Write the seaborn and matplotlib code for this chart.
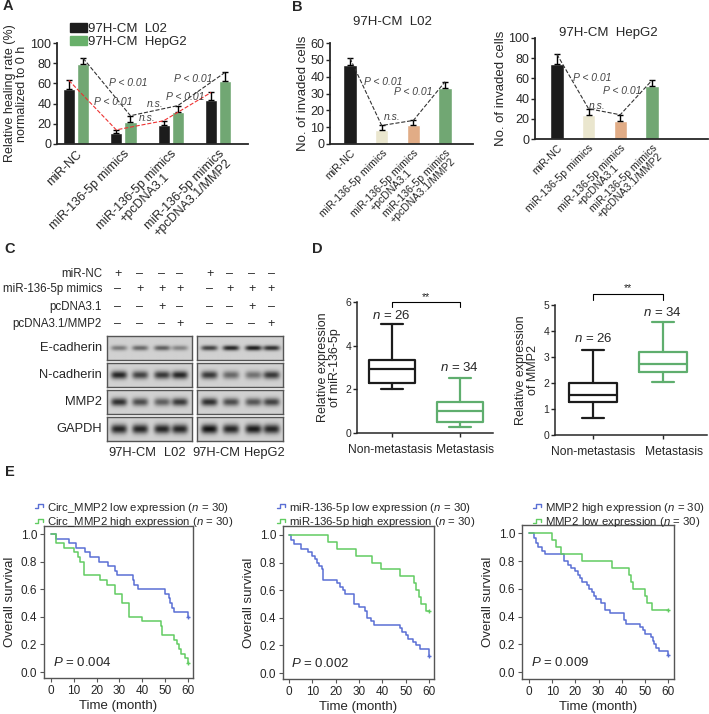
import numpy as np
import pandas as pd
import seaborn as sns
import matplotlib.pyplot as plt
from matplotlib.lines import Line2D
from matplotlib.patches import Patch
from matplotlib.legend_handler import HandlerBase

# ---- data ----
GROUPS = ['miR-NC', 'miR-136-5p mimics', 'miR-136-5p mimics\n+pcDNA3.1',
          'miR-136-5p mimics\n+pcDNA3.1/MMP2']

heal_l02 = [54, 11, 19, 44]
heal_l02_err = [9, 3, 4, 7]
heal_hepg2 = [79, 22, 32, 62]
heal_hepg2_err = [6, 6, 6, 9]

inv_l02 = [47, 8.5, 11, 33]
inv_l02_err = [4, 2.5, 3, 4]
inv_hepg2 = [74, 24, 18, 52]
inv_hepg2_err = [10, 6, 6, 6]

blot_rows = ['E-cadherin', 'N-cadherin', 'MMP2', 'GAPDH']
blot_l02 = [[0.45, 0.55, 0.6, 0.4], [0.9, 0.75, 0.8, 0.9],
            [0.85, 0.7, 0.6, 0.8], [0.9, 0.9, 0.9, 0.9]]
blot_hepg2 = [[0.75, 0.9, 0.95, 0.85], [0.8, 0.55, 0.5, 0.8],
              [0.85, 0.7, 0.65, 0.75], [1.0, 0.9, 0.95, 0.9]]
treat_rows = ['miR-NC', 'miR-136-5p mimics', 'pcDNA3.1', 'pcDNA3.1/MMP2']
treat_signs = [[1, 0, 0, 0], [0, 1, 1, 1], [0, 0, 1, 0], [0, 0, 0, 1]]

# box stats: whislo, q1, med, q3, whishi
mir_non = [2.0, 2.3, 2.95, 3.35, 5.0]
mir_met = [0.27, 0.5, 1.0, 1.4, 2.5]
mmp_non = [0.65, 1.27, 1.54, 2.0, 3.27]
mmp_met = [2.04, 2.42, 2.73, 3.19, 4.35]

# Kaplan-Meier steps
circ_low_t = [0, 2, 8, 11, 15, 17, 21, 25, 28, 29, 36, 36.5, 38, 50, 51.5, 52, 53, 54, 60]
circ_low_s = [1, .967, .933, .9, .867, .833, .8, .767, .733, .7, .667, .633, .6, .567, .533, .5, .467, .433, .4]
circ_high_t = [0, 2, 5.5, 10, 12, 12.5, 14.5, 21.5, 24.5, 28, 31, 34, 40, 48, 48.5, 54, 55, 56, 57, 58.5, 60]
circ_high_s = [1, .933, .9, .867, .833, .8, .7, .667, .633, .567, .5, .4, .367, .333, .267, .233, .2, .167, .133, .1, .067]

mir_low_t = [0, 1, 2, 5, 8, 10, 11, 12, 13, 14, 14.6, 20.5, 22, 23, 24, 28, 30, 32.5, 33.5, 35,
             36.5, 47.5, 48.5, 50, 51, 53, 54.5, 56, 60]
mir_low_s = [1, .967, .933, .9, .875, .85, .825, .8, .775, .75, .675, .65, .625, .6, .575, .5, .475, .45, .4, .375,
             .35, .325, .3, .275, .25, .225, .2, .175, .125]
mir_high_t = [0, 16.5, 20.5, 28.5, 35.5, 39.5, 47.5, 53.5, 54.5, 55.5, 56.5, 58.5, 60]
mir_high_s = [1, .95, .9, .85, .8, .75, .7, .65, .6, .55, .5, .45, .45]

mmp_high_t = [0, 2, 3, 4, 5.5, 7, 15, 17, 18, 20, 21, 22, 23, 25, 26, 27, 28, 29, 31, 33,
              35, 41, 42, 48, 49, 50, 52.5, 53.5, 54, 55, 56, 60]
mmp_high_s = [1, .967, .933, .9, .875, .85, .8, .775, .75, .725, .7, .675, .65, .625, .6, .575, .55, .525, .5, .45,
              .425, .375, .35, .325, .3, .275, .25, .225, .2, .175, .15, .125]
mmp_low_t = [0, 10, 11.5, 14, 23, 36, 43, 44, 45, 50, 51, 53, 60]
mmp_low_s = [1, .95, .9, .85, .8, .75, .7, .65, .6, .55, .5, .45, .45]

# ---- style ----
sns.set_style('ticks')
plt.rcParams['font.family'] = ['Liberation Sans', 'DejaVu Sans']
plt.rcParams['mathtext.fontset'] = 'custom'
plt.rcParams['mathtext.rm'] = 'Liberation Sans'
plt.rcParams['mathtext.it'] = 'Liberation Sans:italic'
plt.rcParams['font.size'] = 9

BLACK = '#1c1c1c'
GREEN = '#68b06a'
CREAM = '#efe9c9'
ORANGE = '#f0a977'
KM_BLUE = '#5a6fd4'
KM_GREEN = '#62cc62'
BOX_GREEN = '#5fae6e'
ANNO = '#444444'

W, H = 709, 714
fig = plt.figure(figsize=(W / 100, H / 100), dpi=100)


def add_ax(l, t, r, b):
    return fig.add_axes([l / W, 1 - b / H, (r - l) / W, (b - t) / H])


def fig_text(x, y, s, **kw):
    fig.text(x / W, 1 - y / H, s, **kw)


def bar_axes(ax, ylim, yticks, lab_size, lab_space):
    ax.set_ylim(*ylim)
    ax.set_yticks(yticks)
    ax.set_xticks(range(4))
    ax.set_xticklabels(GROUPS, rotation=45, ha='right', va='top', linespacing=lab_space,
                       rotation_mode='anchor', multialignment='center', fontsize=lab_size)
    ax.set_xlabel('')
    sns.despine(ax=ax)
    for s in ['left', 'bottom']:
        ax.spines[s].set_linewidth(1.3)
    ax.tick_params(axis='y', length=3, width=1, labelsize=9, pad=1)
    ax.tick_params(axis='x', length=0, pad=3)


def errbars(ax, xs, vals, errs):
    ax.errorbar(xs, vals, yerr=[np.zeros(len(errs)), errs], fmt='none',
                ecolor='black', elinewidth=1, capsize=2.5, capthick=1)


def anno(ax, x, y, s):
    ax.text(x, y, s, fontsize=7.5, style='italic', color=ANNO, ha='center', va='center')


# ---- panel A ----
axA = add_ax(57, 43, 248, 144)
dfA = pd.DataFrame({
    'group': GROUPS * 2,
    'cell': ['97H-CM  L02'] * 4 + ['97H-CM  HepG2'] * 4,
    'rate': heal_l02 + heal_hepg2,
})
sns.barplot(data=dfA, x='group', y='rate', hue='cell', palette=[BLACK, GREEN],
            width=0.6, gap=0.15, errorbar=None, legend=False, ax=axA)
axA.set_xlim(-0.4, 3.63)
xs = np.arange(4)
errbars(axA, xs - 0.15, heal_l02, heal_l02_err)
errbars(axA, xs + 0.15, heal_hepg2, heal_hepg2_err)
axA.plot(xs + 0.15, np.add(heal_hepg2, heal_hepg2_err), ls='--', color='#333333', lw=0.8)
axA.plot(xs - 0.15, np.add(heal_l02, heal_l02_err), ls='--', color='#ee3333', lw=0.8)
bar_axes(axA, (0, 100), [0, 20, 40, 60, 80, 100], 9, 0.95)
axA.set_ylabel('Relative healing rate (%)\nnormalized to 0 h', fontsize=9, labelpad=2,
               linespacing=1.0)
anno(axA, 1.1, 60, 'P < 0.01')
anno(axA, 0.78, 42, 'P < 0.01')
anno(axA, 1.67, 40, 'n.s.')
anno(axA, 1.5, 26, 'n.s.')
anno(axA, 2.47, 64, 'P < 0.01')
anno(axA, 2.3, 47, 'P < 0.01')
axA.legend(handles=[Patch(color=BLACK), Patch(color=GREEN)],
           labels=['97H-CM  L02', '97H-CM  HepG2'], loc='upper left',
           bbox_to_anchor=(63 / W, 1 - 16 / H), bbox_transform=fig.transFigure,
           frameon=False, fontsize=9.5, handlelength=1.3, handleheight=0.75,
           handletextpad=0.1, labelspacing=0.05, borderpad=0)


# ---- panel B ----
def invasion(ax, vals, errs, ylim, yticks, xlim, notes):
    df = pd.DataFrame({'group': GROUPS, 'cells': vals})
    sns.barplot(data=df, x='group', y='cells', hue='group',
                palette=[BLACK, CREAM, ORANGE, GREEN], width=0.42,
                errorbar=None, legend=False, ax=ax)
    ax.set_xlim(*xlim)
    errbars(ax, np.arange(4), vals, errs)
    ax.plot(np.arange(4), np.add(vals, errs), ls='--', color='#333333', lw=0.8)
    bar_axes(ax, ylim, yticks, 7.6, 0.88)
    ax.set_ylabel('No. of invaded cells', fontsize=9.5, labelpad=1)
    for x, y, s in notes:
        anno(ax, x, y, s)


axB1 = add_ax(330, 43, 473, 144)
invasion(axB1, inv_l02, inv_l02_err, (0, 60), range(0, 61, 10), (-0.63, 3.88),
         [(1.04, 37, 'P < 0.01'), (1.32, 16, 'n.s.'), (2.0, 31, 'P < 0.01')])
fig_text(392, 22, '97H-CM  L02', fontsize=9.5, ha='center', va='center')

axB2 = add_ax(535, 38, 708, 139)
invasion(axB2, inv_hepg2, inv_hepg2_err, (0, 100), range(0, 101, 20), (-0.69, 4.77),
         [(1.1, 60, 'P < 0.01'), (1.26, 33, 'n.s.'), (2.05, 48, 'P < 0.01')])
fig_text(608, 33, '97H-CM  HepG2', fontsize=9.5, ha='center', va='center')

# ---- panel C ----
lane_l02 = [118, 140, 162, 180]
lane_hep = [210, 230, 252, 271]
row_y = [274, 289, 307, 324]
for y, name, signs in zip(row_y, treat_rows, treat_signs):
    fig_text(102, y, name, fontsize=8.3, ha='right', va='center')
    for lanes in (lane_l02, lane_hep):
        for x, sg in zip(lanes, signs):
            fig_text(x, y, '+' if sg else '\u2013', fontsize=9, ha='center', va='center')

band_h = [0.11, 0.17, 0.17, 0.2]
blot_top = [336, 363, 390, 417]
gx = np.linspace(0, 1, 140)
gy = np.linspace(0, 1, 36)
GX, GY = np.meshgrid(gx, gy)
for i, name in enumerate(blot_rows):
    t = blot_top[i]
    fig_text(102, t + 12, name, fontsize=9.3, ha='right', va='center')
    for (l, r), dens in [((107, 192), blot_l02[i]), ((197, 283), blot_hepg2[i])]:
        ax = add_ax(l, t, r, t + 24)
        img = np.full_like(GX, 0.82)
        for cx, d in zip([0.14, 0.39, 0.65, 0.86], dens):
            img = img - 0.75 * d * np.exp(-((GX - cx) / 0.095) ** 4) * np.exp(-((GY - 0.5) / band_h[i]) ** 2)
        ax.imshow(img, cmap='gray', vmin=0, vmax=1, aspect='auto', extent=[0, 1, 0, 1])
        ax.set_xticks([])
        ax.set_yticks([])
        for s in ax.spines.values():
            s.set_color('#555555')
            s.set_linewidth(1)
for x, s in [(132, '97H-CM'), (175, 'L02'), (216, '97H-CM'), (264, 'HepG2')]:
    fig_text(x, 453, s, fontsize=9.3, ha='center', va='center')


# ---- panel D ----
def box_panel(ax, stats_non, stats_met, ylim, yticks, xlim, ylabel, nlabel_y, br_y, br_drop, lab_x):
    bstats = []
    for st in (stats_non, stats_met):
        bstats.append(dict(whislo=st[0], q1=st[1], med=st[2], q3=st[3], whishi=st[4], fliers=[]))
    arts = ax.bxp(bstats, positions=[0, 1], widths=0.68, capwidths=0.32,
                  showfliers=False, patch_artist=False)
    for k, col in enumerate([BLACK, BOX_GREEN]):
        for key in ['boxes', 'medians']:
            arts[key][k].set_color(col)
            arts[key][k].set_linewidth(1.6)
        for key in ['whiskers', 'caps']:
            for a in arts[key][2 * k:2 * k + 2]:
                a.set_color(col)
                a.set_linewidth(1.6)
    ax.set_ylim(*ylim)
    ax.set_xlim(*xlim)
    ax.set_yticks(yticks)
    ax.set_xticks([0, 1])
    ax.set_xticklabels([])
    for x, s in zip(lab_x, ['Non-metastasis', 'Metastasis']):
        ax.annotate(s, xy=(x, 0), xycoords=('data', 'axes fraction'), xytext=(0, -12),
                    textcoords='offset points', ha='center', va='center', fontsize=8.7)
    sns.despine(ax=ax)
    for s in ['left', 'bottom']:
        ax.spines[s].set_linewidth(1.1)
    ax.tick_params(length=3, width=1, pad=1)
    ax.tick_params(axis='y', labelsize=7.5)
    ax.set_ylabel(ylabel, fontsize=9, labelpad=3, linespacing=1.0)
    ax.text(0, nlabel_y[0], '$n$ = 26', fontsize=9.5, ha='center', va='center')
    ax.text(1, nlabel_y[1], '$n$ = 34', fontsize=9.5, ha='center', va='center')
    ax.plot([0, 0, 1, 1], [br_y - br_drop, br_y, br_y, br_y - br_drop], color='black',
            lw=0.8, clip_on=False)
    ax.text(0.5, br_y + br_drop, '**', fontsize=7.5, ha='center', va='center')


axD1 = add_ax(357, 302, 493, 433)
box_panel(axD1, mir_non, mir_met, (0, 6), [0, 2, 4, 6], (-0.51, 1.49),
          'Relative expression\nof miR-136-5p', (5.4, 3.02), 6.0, 0.22, (-0.02, 1.08))
axD2 = add_ax(555, 305, 707, 435)
box_panel(axD2, mmp_non, mmp_met, (0, 5), range(0, 6), (-0.54, 1.63),
          'Relative expression\nof MMP2', (3.73, 4.73), 5.42, 0.22, (0, 1.16))


# ---- panel E ----
class StepHandler(HandlerBase):
    def create_artists(self, legend, orig, xd, yd, width, height, fontsize, trans):
        fx = np.array([0, 0.35, 0.35, 0.85, 0.85])
        fy = np.array([0.3, 0.3, 0.8, 0.8, 0.45])
        line = Line2D(xd + fx * width, yd + fy * height, color=orig.get_color(), lw=1)
        line.set_transform(trans)
        return [line]


def km(ax, blue_t, blue_s, green_t, green_s, ptxt, xlim, ylim):
    for t, s, col in [(blue_t, blue_s, KM_BLUE), (green_t, green_s, KM_GREEN)]:
        sns.lineplot(x=t, y=s, drawstyle='steps-post', estimator=None, sort=False,
                     color=col, lw=1.1, ax=ax)
        ax.plot(t[-1], s[-1], marker='+', color=col, ms=3, mew=1)
    ax.set_xlim(*xlim)
    ax.set_ylim(*ylim)
    ax.set_xticks(range(0, 61, 10))
    ax.set_yticks(np.arange(0, 1.01, 0.2))
    ax.set_yticklabels(['%.1f' % v for v in np.arange(0, 1.01, 0.2)])
    for s in ax.spines.values():
        s.set_color('#555555')
        s.set_linewidth(1)
        s.set_visible(True)
    ax.tick_params(length=3, width=0.8, color='#555555', labelsize=8.5, pad=2)
    ax.set_xlabel('Time (month)', fontsize=9.5, labelpad=2)
    ax.set_ylabel('Overall survival', fontsize=9.5, labelpad=3)
    ax.text(1, 0.07, '$P$ = ' + ptxt, fontsize=9.5, ha='left', va='center')


def km_legend(ax, x, labels):
    handles = [Line2D([], [], color=KM_BLUE, lw=1), Line2D([], [], color=KM_GREEN, lw=1)]
    ax.legend(handles=handles, labels=labels, loc='upper left',
              bbox_to_anchor=(x / W, 1 - 495 / H), bbox_transform=fig.transFigure,
              frameon=False, fontsize=8.2, handlelength=0.9, handletextpad=0.15,
              labelspacing=0.05, borderpad=0,
              handler_map={h: StepHandler() for h in handles})


axE1 = add_ax(44, 526, 193, 678)
km(axE1, circ_low_t, circ_low_s, circ_high_t, circ_high_s, '0.004', (-3.07, 62.2), (-0.043, 1.058))
km_legend(axE1, 29, ['Circ_MMP2 low expression ($n$ = 30)', 'Circ_MMP2 high expression ($n$ = 30)'])

axE2 = add_ax(283, 526, 434, 679)
km(axE2, mir_low_t, mir_low_s, mir_high_t, mir_high_s, '0.002', (-2.57, 62.1), (-0.043, 1.065))
km_legend(axE2, 271, ['miR-136-5p low expression ($n$ = 30)', 'miR-136-5p high expression ($n$ = 30)'])

axE3 = add_ax(522, 525, 674, 679)
km(axE3, mmp_high_t, mmp_high_s, mmp_low_t, mmp_low_s, '0.009', (-3.04, 62.6), (-0.05, 1.06))
km_legend(axE3, 527, ['MMP2 high expression ($n$ = 30)', 'MMP2 low expression ($n$ = 30)'])

# panel letters
for x, y, s in [(8, 6, 'A'), (297, 7, 'B'), (10, 249, 'C'), (317, 249, 'D'), (10, 472, 'E')]:
    fig_text(x, y, s, fontsize=10.5, fontweight='bold', ha='center', va='center')

fig.savefig('out.png', dpi=100)
